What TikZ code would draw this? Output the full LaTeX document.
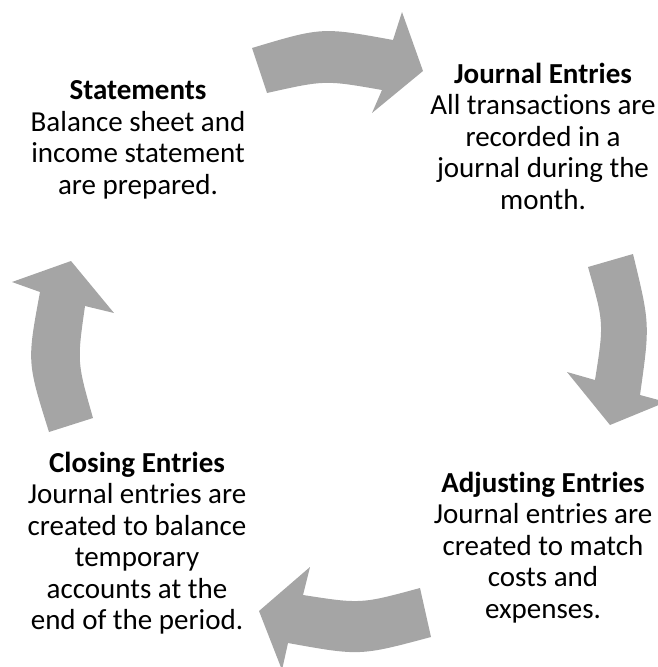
\documentclass[tikz,border=0pt]{standalone}
\usepackage{fontspec}
\setmainfont{Carlito}[Ligatures={NoCommon}]
\begin{document}
\begin{tikzpicture}[x=1pt,y=-1pt,
  cyc/.style={fill=arrowgray,draw=none},
  lbl/.style={align=center,inner sep=0pt,font=\fontsize{29}{31.5}\selectfont}]
\definecolor{arrowgray}{HTML}{A5A5A5}
\useasboundingbox (0,0) rectangle (658,667);
\clip (0,0) rectangle (658,667);
% top arrow (Statements -> Journal Entries)
\fill[cyc] (252,48) .. controls (322,27) .. (393,40) -- (402,12) -- (423,71) -- (372,113) -- (382,90)
  .. controls (325,80) .. (267,93) -- cycle;
% right arrow (Journal -> Adjusting)
\fill[cyc] (633,254) .. controls (650,324) .. (640,395) -- (666,402) -- (610,425) -- (567,372) -- (595,380)
  .. controls (604,323) .. (588,267) -- cycle;
% bottom arrow (Adjusting -> Closing)
\fill[cyc] (431,637) .. controls (360,656) .. (288,643) -- (282,670) -- (259,611) -- (310,567) -- (303,595)
  .. controls (361,604) .. (420,588) -- cycle;
% left arrow (Closing -> Statements)
\fill[cyc] (49,432) .. controls (27,362) .. (40,292) -- (12,282) -- (71,261) -- (114,313) -- (85,306)
  .. controls (77,362) .. (93,418) -- cycle;
\node[lbl] (st) at (138,140) {\textbf{Statements}\\Balance sheet and\\income statement\\are prepared.};
\node[lbl] (je) at (543,136) {\textbf{Journal Entries}\\All transactions are\\recorded in a\\journal during the\\month.};
\node[lbl] (ae) at (543,547.5) {\textbf{Adjusting Entries}\\Journal entries are\\created to match\\costs and\\expenses.};
\node[lbl] (ce) at (137,543) {\textbf{Closing Entries}\\Journal entries are\\created to balance\\temporary\\accounts at the\\end of the period.};
\end{tikzpicture}
\end{document}
